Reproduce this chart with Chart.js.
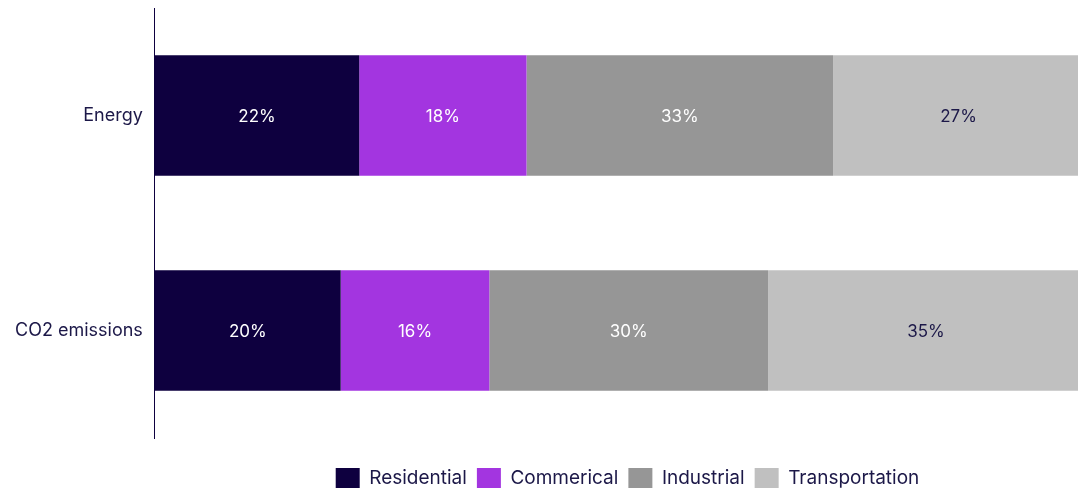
<!DOCTYPE html>
<html>
<head>
<meta charset="utf-8">
<script src="https://cdn.jsdelivr.net/npm/chart.js@4"></script>
<style>
  html, body { margin: 0; padding: 0; background: #fff; }
  #wrap { width: 1078px; height: 488px; }
</style>
</head>
<body>
<div id="wrap"><canvas id="share-chart"></canvas></div>
<script>
const categories = ['Energy', 'CO2 emissions'];
const residential = [22, 20];
const commercial = [18, 16];
const industrial = [33, 30];
const transportation = [27, 35];

const navy = '#0e003f';
const textColor = '#1c1848';
const fontFamily = 'Inter, "Noto Sans", sans-serif';

// draw the % inside each segment
const segmentLabels = {
    id: 'segmentLabels',
    afterDatasetsDraw(chart) {
        const ctx = chart.ctx;
        ctx.save();
        ctx.font = '17px ' + fontFamily;
        ctx.textAlign = 'center';
        ctx.textBaseline = 'middle';
        chart.data.datasets.forEach((ds, i) => {
            const meta = chart.getDatasetMeta(i);
            meta.data.forEach((bar, j) => {
                const left = Math.min(bar.base, bar.x);
                const right = Math.min(Math.max(bar.base, bar.x), chart.chartArea.right);
                ctx.fillStyle = ds.labelColor;
                ctx.fillText(ds.data[j] + '%', (left + right) / 2, bar.y + 1);
            });
        });
        ctx.restore();
    }
};

// legend sits under the bars, a bit lower than chart.js puts it;
// the bars also run a little past the right edge in the original
const layoutTweak = {
    id: 'layoutTweak',
    afterLayout(chart) {
        const lg = chart.legend;
        lg.left += 87;
        lg.right += 87;
        lg.top += 20;
        lg.bottom += 20;

        const x = chart.scales.x;
        x.right += 6;
        x.width += 6;
        x.configure();
        chart.chartArea.right += 6;
        chart.chartArea.width += 6;
    }
};

const data = {
    labels: categories,
    datasets: [
        { label: 'Residential', data: residential, backgroundColor: navy, labelColor: '#ffffff' },
        { label: 'Commerical', data: commercial, backgroundColor: '#a335e0', labelColor: '#ffffff' },
        { label: 'Industrial', data: industrial, backgroundColor: '#969696', labelColor: '#ffffff' },
        { label: 'Transportation', data: transportation, backgroundColor: '#c0c0c0', labelColor: textColor }
    ]
};

const config = {
    type: 'bar',
    data: data,
    options: {
        indexAxis: 'y',
        responsive: true,
        maintainAspectRatio: false,
        animation: false,
        categoryPercentage: 1,
        barPercentage: 0.56,
        layout: { padding: { top: 8, right: 0, left: 3, bottom: 10 } },
        scales: {
            x: {
                stacked: true,
                min: 0,
                max: 100,
                display: false
            },
            y: {
                stacked: true,
                grid: { display: false, drawTicks: false },
                border: { display: true, color: navy, width: 1 },
                ticks: {
                    color: textColor,
                    padding: 12,
                    font: { family: fontFamily, size: 18 }
                },
                afterFit(scale) {
                    scale.paddingTop = 0;
                    scale.paddingBottom = 0;
                }
            }
        },
        plugins: {
            legend: {
                position: 'bottom',
                labels: {
                    color: textColor,
                    boxWidth: 24,
                    boxHeight: 20,
                    padding: 10,
                    font: { family: fontFamily, size: 19 }
                }
            },
            tooltip: { enabled: false }
        }
    },
    plugins: [segmentLabels, layoutTweak]
};

const ctx = document.getElementById('share-chart').getContext('2d');
new Chart(ctx, config);
</script>
</body>
</html>
